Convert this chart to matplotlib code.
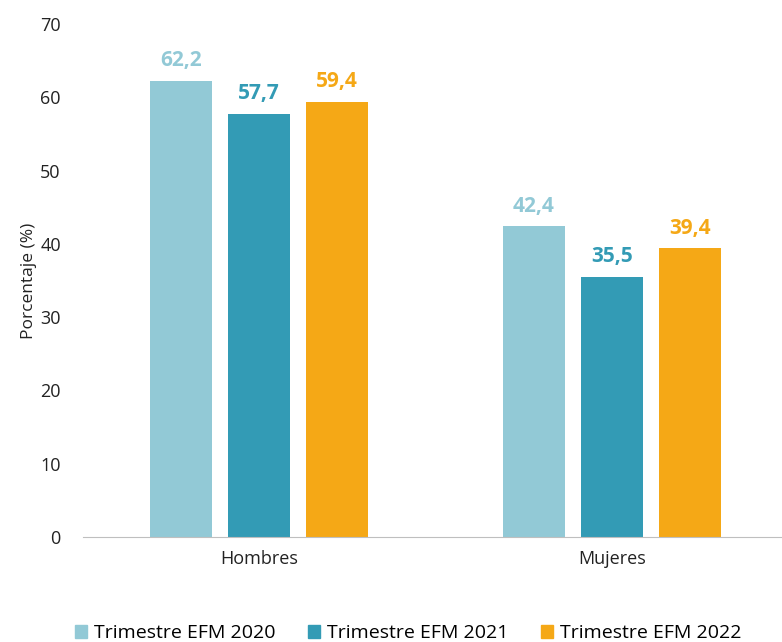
import numpy as np
import matplotlib.pyplot as plt
from matplotlib.patches import Patch

plt.rcParams['font.family'] = ['Open Sans', 'DejaVu Sans']

# Data
categories = ['Hombres', 'Mujeres']
series_names = ['Trimestre EFM 2020', 'Trimestre EFM 2021', 'Trimestre EFM 2022']
values_2020 = [62.2, 42.4]
values_2021 = [57.7, 35.5]
values_2022 = [59.4, 39.4]
colors = ['#92C9D6', '#339BB5', '#F5A816']

series = [values_2020, values_2021, values_2022]

fig = plt.figure(figsize=(7.82, 6.42), dpi=100)
ax = fig.add_axes([83 / 782, 1 - 537 / 642, 698 / 782, 513 / 642])

x = np.arange(len(categories))
width = 0.176
offset = 0.222

for i, (vals, col) in enumerate(zip(series, colors)):
    pos = x + (i - 1) * offset
    bars = ax.bar(pos, vals, width=width, color=col)
    for b, v in zip(bars, vals):
        ax.annotate(f'{v:.1f}'.replace('.', ','),
                    (b.get_x() + b.get_width() / 2, v),
                    xytext=(0, 7), textcoords='offset points',
                    ha='center', va='bottom', fontsize=15,
                    fontweight='bold', color=col)

ax.set_xlim(-0.4986, 1.479)
ax.set_ylim(0, 70)
ax.set_yticks(range(0, 71, 10))
ax.set_xticks(x)
ax.set_xticklabels(categories)
ax.tick_params(axis='both', length=0, labelsize=13, colors='#222222')
ax.tick_params(axis='x', pad=9)
ax.tick_params(axis='y', pad=16)
ax.set_ylabel('Porcentaje (%)', fontsize=12.5, color='#222222', labelpad=2)

for s in ['top', 'right', 'left']:
    ax.spines[s].set_visible(False)
ax.spines['bottom'].set_color('#BFBFBF')

handles = [Patch(color=c, label=n) for c, n in zip(colors, series_names)]
fig.legend(handles=handles, loc='lower center', ncol=3,
           bbox_to_anchor=(0.522, -0.028), frameon=False, fontsize=14,
           handlelength=0.6, handleheight=0.6, handletextpad=0.35,
           columnspacing=1.7)

fig.savefig('out.png', dpi=100)
